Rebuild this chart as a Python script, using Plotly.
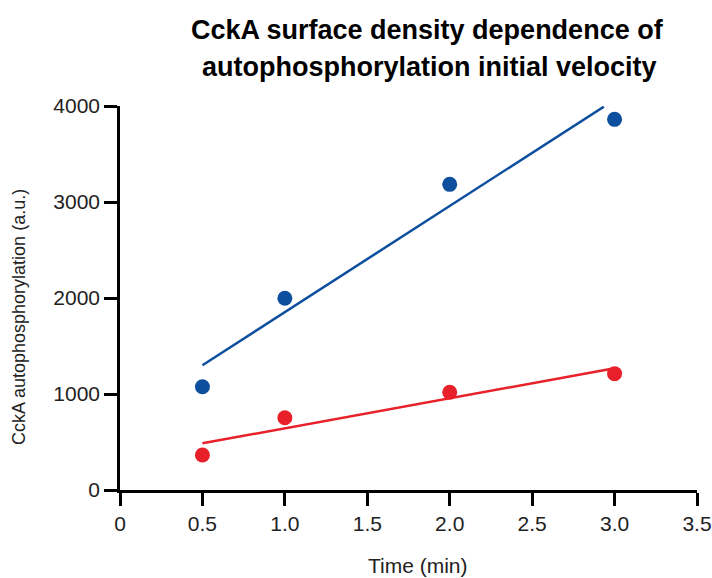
import plotly.graph_objects as go

# Data
time_min = [0.5, 1.0, 2.0, 3.0]
high_density = [1076, 1997, 3184, 3861]
low_density = [365, 753, 1018, 1212]

# Fitted lines (end points)
high_fit_x = [0.5, 2.935]
high_fit_y = [1300, 3993]
low_fit_x = [0.5, 3.0]
low_fit_y = [486, 1268]

x_ticks = [0, 0.5, 1.0, 1.5, 2.0, 2.5, 3.0, 3.5]
x_tick_labels = ["0", "0.5", "1.0", "1.5", "2.0", "2.5", "3.0", "3.5"]
y_ticks = [0, 1000, 2000, 3000, 4000]
y_tick_labels = ["0", "1000", "2000", "3000", "4000"]

title_lines = ["CckA surface density dependence of", "autophosphorylation initial velocity"]
x_title = "Time (min)"
y_title = "CckA autophosphorylation (a.u.)"

BLUE = "#0d4f9e"
RED = "#e8202a"
FONT = "Liberation Sans, Arial, Helvetica, sans-serif"

L, R, T, B = 120, 15, 106, 88
PW, PH = 712 - L - R, 578 - T - B


def px_to_paper_y(py):
    return (578 - B - py) / PH


def px_to_paper_x(px):
    return (px - L) / PW


fig = go.Figure()
fig.add_trace(go.Scatter(x=high_fit_x, y=high_fit_y, mode="lines",
                         line=dict(color=BLUE, width=2.5), showlegend=False, hoverinfo="skip"))
fig.add_trace(go.Scatter(x=low_fit_x, y=low_fit_y, mode="lines",
                         line=dict(color=RED, width=2.5), showlegend=False, hoverinfo="skip"))
fig.add_trace(go.Scatter(x=time_min, y=high_density, mode="markers",
                         marker=dict(color=BLUE, size=15), showlegend=False))
fig.add_trace(go.Scatter(x=time_min, y=low_density, mode="markers",
                         marker=dict(color=RED, size=15), showlegend=False))

annotations = [
    dict(text="<b>" + title_lines[0] + "</b>", xref="paper", yref="paper",
         x=px_to_paper_x(427), y=px_to_paper_y(30), xanchor="center", yanchor="middle",
         showarrow=False, font=dict(family=FONT, size=27, color="black")),
    dict(text="<b>" + title_lines[1] + "</b>", xref="paper", yref="paper",
         x=px_to_paper_x(429), y=px_to_paper_y(67), xanchor="center", yanchor="middle",
         showarrow=False, font=dict(family=FONT, size=27, color="black")),
    dict(text=y_title, textangle=-90,
         xref="paper", yref="paper", x=px_to_paper_x(19), y=px_to_paper_y(317),
         xanchor="center", yanchor="middle", showarrow=False,
         font=dict(family=FONT, size=18, color="#222222")),
    dict(text=x_title,
         xref="paper", yref="paper", x=px_to_paper_x(418), y=px_to_paper_y(565),
         xanchor="center", yanchor="middle", showarrow=False,
         font=dict(family=FONT, size=21, color="#222222")),
]

fig.update_layout(
    width=712, height=578,
    margin=dict(l=L, r=R, t=T, b=B),
    paper_bgcolor="white", plot_bgcolor="white",
    font=dict(family=FONT, color="#222222"),
    xaxis=dict(
        range=[0, 3.5], tickvals=x_ticks, ticktext=x_tick_labels,
        automargin=False,
        showline=True, linecolor="black", linewidth=2.5,
        ticks="outside", ticklen=13, tickwidth=2.5, tickcolor="black",
        showgrid=False, zeroline=False,
        tickfont=dict(size=21, color="#222222"),
    ),
    yaxis=dict(
        range=[0, 4000], tickvals=y_ticks, ticktext=y_tick_labels,
        automargin=False,
        showline=True, linecolor="black", linewidth=2.5,
        ticks="outside", ticklen=13, tickwidth=2.5, tickcolor="black",
        showgrid=False, zeroline=False,
        tickfont=dict(size=21, color="#222222"),
    ),
    annotations=annotations,
)

fig.write_html("out.html")
